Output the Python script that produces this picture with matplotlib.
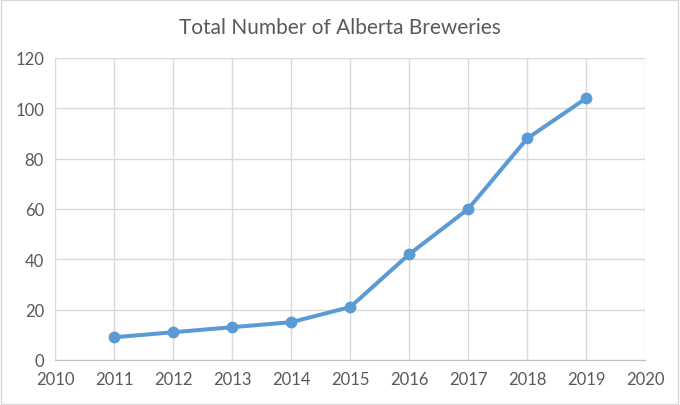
import matplotlib.pyplot as plt

# data
years = [2011, 2012, 2013, 2014, 2015, 2016, 2017, 2018, 2019]
breweries = [9, 11, 13, 15, 21, 42, 60, 88, 104]
x_ticks = list(range(2010, 2021))
y_ticks = [0, 20, 40, 60, 80, 100, 120]

plt.rcParams['font.family'] = ['Lato', 'DejaVu Sans']
text_col = '#595959'
grid_col = '#D9D9D9'

fig = plt.figure(figsize=(6.8, 4.06), dpi=100)
ax = fig.add_axes([0.081, 0.111, 0.868, 0.744])

ax.plot(years, breweries, color='#5B9BD5', linewidth=2.9,
        marker='o', markersize=7.5, zorder=3)

ax.set_xlim(2010, 2020)
ax.set_ylim(0, 120)
ax.set_xticks(x_ticks)
ax.set_yticks(y_ticks)
ax.grid(True, color=grid_col, linewidth=1)
ax.set_axisbelow(True)

for side in ['top', 'right', 'left']:
    ax.spines[side].set_visible(False)
ax.spines['bottom'].set_color('#BFBFBF')
ax.tick_params(length=0, labelsize=12, colors=text_col, pad=8)

fig.suptitle('Total Number of Alberta Breweries', y=0.955, fontsize=15,
             color=text_col)

# light border round the chart
fig.patches.append(plt.Rectangle((0.002, 0.003), 0.995, 0.994,
                                 transform=fig.transFigure, fill=False,
                                 edgecolor='#D9D9D9', linewidth=1))

fig.savefig('out.png', dpi=100)
